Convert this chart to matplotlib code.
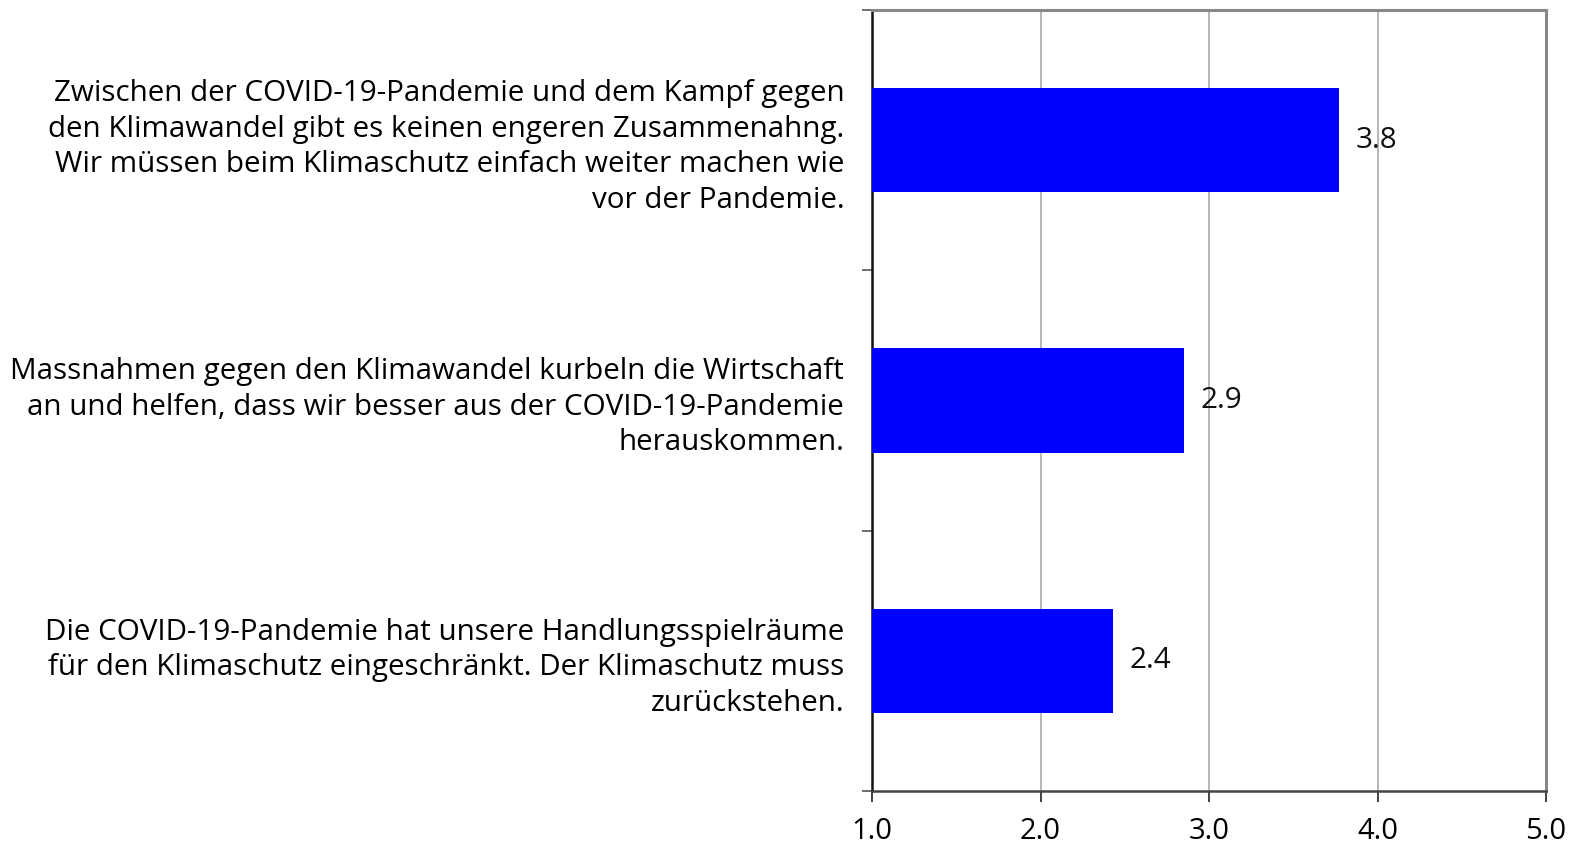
import numpy as np
import matplotlib.pyplot as plt

labels = [
    "Zwischen der COVID-19-Pandemie und dem Kampf gegen\n"
    "den Klimawandel gibt es keinen engeren Zusammenahng.\n"
    "Wir müssen beim Klimaschutz einfach weiter machen wie\n"
    "vor der Pandemie.",
    "Massnahmen gegen den Klimawandel kurbeln die Wirtschaft\n"
    "an und helfen, dass wir besser aus der COVID-19-Pandemie\n"
    "herauskommen.",
    "Die COVID-19-Pandemie hat unsere Handlungsspielräume\n"
    "für den Klimaschutz eingeschränkt. Der Klimaschutz muss\n"
    "zurückstehen.",
]
values = [3.77, 2.85, 2.43]
shown = ["3.8", "2.9", "2.4"]
xticks = [1.0, 2.0, 3.0, 4.0, 5.0]

plt.rcParams['font.family'] = ['Open Sans', 'DejaVu Sans']

fig = plt.figure(figsize=(15.7, 8.46), dpi=100)
ax = fig.add_axes([872 / 1570, 1 - 791 / 846, (1546 - 872) / 1570, (791 - 10) / 846])

y = np.arange(len(labels))
ax.barh(y, np.array(values) - 1.0, left=1.0, height=0.4, color='#0000ff', zorder=3)

for yi, v, s in zip(y, values, shown):
    ax.annotate(s, (v, yi), xytext=(12, 0), textcoords='offset points',
                va='center', ha='left', fontsize=21.3, color='#111111', zorder=4)

ax.set_xlim(1.0, 5.0)
ax.set_ylim(len(labels) - 0.5, -0.5)
ax.set_xticks(xticks)
ax.set_xticklabels([f"{t:.1f}" for t in xticks], fontsize=21)
ax.tick_params(axis='x', length=8, width=1.2, color='#222222', pad=11)
ax.grid(axis='x', color='#aaaaaa', linewidth=1.2, zorder=0)

ax.set_yticks(np.arange(len(labels) + 1) - 0.5)
ax.set_yticklabels([])
ax.tick_params(axis='y', which='major', length=7, width=1.2, color='#555555')
ax.set_yticks(y, minor=True)
ax.set_yticklabels(labels, minor=True, fontsize=21.3, linespacing=1.3)
ax.tick_params(axis='y', which='minor', length=0, pad=20)

ax.spines['left'].set_color('#111111')
ax.spines['left'].set_linewidth(1.8)
ax.spines['bottom'].set_color('#444444')
ax.spines['bottom'].set_linewidth(1.8)
for side in ['top', 'right']:
    ax.spines[side].set_color('#888888')
    ax.spines[side].set_linewidth(2.2)

fig.savefig("out.png", dpi=100)
